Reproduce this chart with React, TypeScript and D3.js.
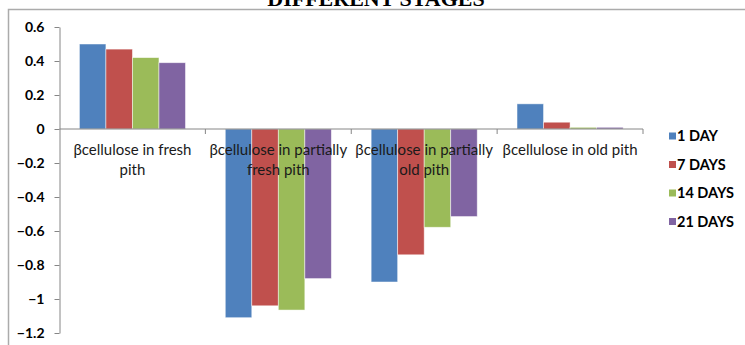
import { useEffect, useRef } from 'react';
import * as d3 from 'd3';

const categories = [
  'βcellulose in fresh pith',
  'βcellulose in partially fresh pith',
  'βcellulose in partially old pith',
  'βcellulose in old pith',
];
const seriesNames = ['1 DAY', '7 DAYS', '14 DAYS', '21 DAYS'];
const seriesColors = ['#4F81BD', '#C0504D', '#9BBB59', '#8064A2'];
// values per series, one per category
const day1 = [0.5, -1.11, -0.9, 0.148];
const day7 = [0.47, -1.04, -0.74, 0.04];
const day14 = [0.42, -1.065, -0.578, 0.01];
const day21 = [0.39, -0.88, -0.515, 0.01];
const yTicks = [0.6, 0.4, 0.2, 0, -0.2, -0.4, -0.6, -0.8, -1, -1.2];

const W = 745;
const H = 345;

export default function App() {
  const svgRef = useRef<SVGSVGElement>(null);

  useEffect(() => {
    if (!svgRef.current) return;
    const svg = d3.select(svgRef.current);
    svg.selectAll('*').remove();

    const series = [day1, day7, day14, day21];
    const font = 'Lato, "Open Sans", sans-serif';

    // chart frame
    svg.append('rect')
      .attr('x', 8.5).attr('y', 9.5)
      .attr('width', W).attr('height', H)
      .attr('fill', 'none')
      .attr('stroke', '#ababab')
      .attr('stroke-width', 1.5);

    // title (cut off at top, as in the source)
    svg.append('text')
      .attr('x', 376).attr('y', 6)
      .attr('text-anchor', 'middle')
      .style('font-family', '"Liberation Serif", "Times New Roman", serif')
      .style('font-weight', 'bold')
      .style('font-size', '22px')
      .text('DIFFERENT STAGES');

    const x0 = d3.scaleBand<string>()
      .domain(categories)
      .range([59.5, 643]);

    const x1 = d3.scaleBand<number>()
      .domain(d3.range(series.length))
      .range([0, x0.bandwidth()])
      .paddingInner(0)
      .paddingOuter(0.75);

    const y = d3.scaleLinear().domain([-1.2, 0.6]).range([333, 27]);

    // bars
    series.forEach((vals, si) => {
      svg.append('g')
        .selectAll('rect')
        .data(vals)
        .enter()
        .append('rect')
        .attr('x', (d, i) => (x0(categories[i]) || 0) + (x1(si) || 0))
        .attr('y', d => y(Math.max(0, d)))
        .attr('width', x1.bandwidth())
        .attr('height', d => Math.abs(y(d) - y(0)))
        .attr('fill', seriesColors[si])
        .attr('stroke', 'rgba(255,255,255,0.6)')
        .attr('stroke-width', 0.8);
    });

    const axisColor = '#868686';

    // y axis
    const yAxis = svg.append('g')
      .attr('transform', 'translate(59.5,0)')
      .call(d3.axisLeft(y).tickValues(yTicks).tickSize(5).tickSizeOuter(0).tickPadding(10)
        .tickFormat(d => d3.format('')(+d)));
    yAxis.select('.domain').attr('stroke', axisColor);
    yAxis.selectAll('.tick line').attr('stroke', axisColor);
    yAxis.selectAll('.tick text')
      .style('font-family', font)
      .style('font-weight', 'bold')
      .style('font-size', '14px')
      .attr('fill', '#000');

    // x axis at zero
    const xAxisG = svg.append('g').attr('transform', `translate(0,${y(0)})`);
    xAxisG.append('line')
      .attr('x1', 59.5).attr('x2', 643)
      .attr('stroke', axisColor);
    const bounds = categories.map(c => (x0(c) || 0) + x0.bandwidth());
    xAxisG.selectAll('line.tk')
      .data(bounds)
      .enter()
      .append('line')
      .attr('class', 'tk')
      .attr('x1', d => d).attr('x2', d => d)
      .attr('y1', 0).attr('y2', 5)
      .attr('stroke', axisColor);

    // category labels, wrapped
    categories.forEach(c => {
      const cx = (x0(c) || 0) + x0.bandwidth() / 2;
      const t = svg.append('text')
        .attr('x', cx)
        .attr('text-anchor', 'middle')
        .attr('fill', '#1a1a1a')
        .style('font-family', font)
        .style('font-size', '15px');
      const words = c.split(' ');
      const lines: string[] = [];
      let line: string[] = [];
      const probe = t.append('tspan');
      words.forEach(w => {
        line.push(w);
        probe.text(line.join(' '));
        if ((probe.node() as SVGTSpanElement).getComputedTextLength() > 142 && line.length > 1) {
          line.pop();
          lines.push(line.join(' '));
          line = [w];
        }
      });
      lines.push(line.join(' '));
      probe.remove();
      lines.forEach((l, i) => {
        t.append('tspan')
          .attr('x', cx)
          .attr('y', 155 + i * 20)
          .text(l);
      });
    });

    // legend
    const legend = svg.append('g');
    seriesNames.forEach((name, i) => {
      const ly = 136 + i * 28.5;
      legend.append('rect')
        .attr('x', 669).attr('y', ly - 3.5)
        .attr('width', 7).attr('height', 7)
        .attr('fill', seriesColors[i]);
      legend.append('text')
        .attr('x', 677).attr('y', ly)
        .attr('dy', '0.35em')
        .style('font-family', font)
        .style('font-weight', 'bold')
        .style('font-size', '14.5px')
        .attr('fill', '#000')
        .text(name);
    });
  }, []);

  return (
    <div style={{ position: 'absolute', left: 0, top: 0, width: W, height: H, background: '#fff' }}>
      <svg ref={svgRef} width={W} height={H} style={{ display: 'block' }} />
    </div>
  );
}
